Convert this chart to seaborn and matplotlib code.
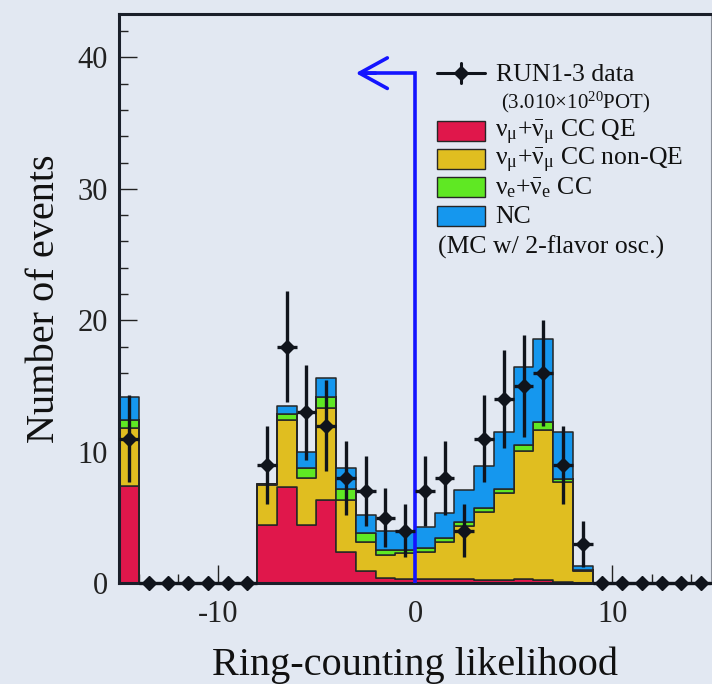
import numpy as np
import pandas as pd
import matplotlib
matplotlib.use("Agg")
import matplotlib.pyplot as plt
import seaborn as sns
from matplotlib.transforms import Affine2D
from matplotlib.patches import Rectangle
from matplotlib.lines import Line2D
from matplotlib.ticker import MultipleLocator

# ---------------- data ----------------
bin_centers = np.arange(-14.5, 15.0, 1.0)

data_counts = [11, 0, 0, 0, 0, 0, 0, 9, 18, 13, 12, 8, 7, 5, 4,
               7, 8, 4, 11, 14, 15, 16, 9, 3, 0, 0, 0, 0, 0, 0]

numu_qe = [7.4, 0, 0, 0, 0, 0, 0, 4.4, 7.3, 4.4, 6.35, 2.35, 0.9, 0.4, 0.35,
           0.3, 0.3, 0.3, 0.25, 0.25, 0.3, 0.25, 0.1, 0.0, 0, 0, 0, 0, 0, 0]
numu_nonqe = [4.4, 0, 0, 0, 0, 0, 0, 3.1, 5.1, 3.6, 6.95, 4.0, 2.27, 1.75, 1.95,
              2.08, 2.84, 4.04, 5.15, 6.61, 9.74, 11.39, 7.62, 0.95, 0, 0, 0, 0, 0, 0]
nue_cc = [0.6, 0, 0, 0, 0, 0, 0, 0.02, 0.45, 0.8, 0.9, 0.85, 0.63, 0.41, 0.23,
          0.31, 0.31, 0.30, 0.36, 0.35, 0.51, 0.63, 0.23, 0.05, 0, 0, 0, 0, 0, 0]
nc = [1.75, 0, 0, 0, 0, 0, 0, 0.03, 0.65, 1.2, 1.4, 1.56, 1.4, 1.39, 1.43,
      1.57, 1.93, 2.47, 3.18, 4.33, 5.9, 6.29, 3.59, 0.34, 0, 0, 0, 0, 0, 0]

components = ["NC", "nue CC", "numu CC non-QE", "numu CC QE"]  # top -> bottom
comp_values = {"numu CC QE": numu_qe, "numu CC non-QE": numu_nonqe,
               "nue CC": nue_cc, "NC": nc}
colors = {"numu CC QE": "#e0174b", "numu CC non-QE": "#e0be20",
          "nue CC": "#5fe823", "NC": "#1597ee"}

legend_labels = [r"$\mathrm{\nu_{\mu}{+}\bar{\nu}_{\mu}}$ CC QE",
                 r"$\mathrm{\nu_{\mu}{+}\bar{\nu}_{\mu}}$ CC non-QE",
                 r"$\mathrm{\nu_{e}{+}\bar{\nu}_{e}}$ CC",
                 "NC"]

cut_value = 0.0
arrow_y = 38.8
arrow_end = -3.0

# ---------------- style ----------------
BG = "#e2e8f2"
sns.set_theme(style="ticks")
plt.rcParams["font.family"] = ["Liberation Serif", "DejaVu Serif"]
plt.rcParams["mathtext.fontset"] = "custom"
plt.rcParams["mathtext.rm"] = "Liberation Serif"
plt.rcParams["mathtext.it"] = "Liberation Serif:italic"
plt.rcParams["mathtext.bf"] = "Liberation Serif:bold"
plt.rcParams["axes.unicode_minus"] = False

W, H = 712, 684
fig = plt.figure(figsize=(W / 100, H / 100), dpi=100, facecolor=BG)
ax = fig.add_axes([119 / W, 1 - 583.3 / H, (711 - 119) / W, (583.3 - 14) / H])
ax.set_facecolor(BG)

rows = []
for comp in components:
    for c, w in zip(bin_centers, comp_values[comp]):
        rows.append({"x": c, "w": w, "comp": comp})
df = pd.DataFrame(rows)

sns.histplot(data=df, x="x", weights="w", hue="comp", hue_order=components,
             multiple="stack", bins=30, binrange=(-15, 15), element="step",
             palette=colors, alpha=1.0, edgecolor="#262626", linewidth=1.1,
             legend=False, ax=ax, zorder=1)

# cut line with arrow
ax.plot([cut_value, cut_value, arrow_end + 0.4], [0, arrow_y, arrow_y],
        color="#1414ff", lw=2.6, solid_joinstyle="miter", zorder=3)
ax.annotate("", xy=(arrow_end, arrow_y), xytext=(arrow_end + 1.0, arrow_y),
            arrowprops=dict(arrowstyle="->,head_length=1.0,head_width=0.55",
                            color="#1414ff", lw=2.6, shrinkA=0, shrinkB=0,
                            mutation_scale=20), zorder=3)

# data points
dc = np.array(data_counts, dtype=float)
ax.errorbar(bin_centers, dc, xerr=0.5, yerr=np.sqrt(dc), fmt="D", ms=7.5,
            color="#10141c", ecolor="#10141c", elinewidth=2.4, capsize=0,
            zorder=5, clip_on=False)

ax.set_xlim(-15, 15)
ax.set_ylim(0, 43.3)
ax.xaxis.set_major_locator(MultipleLocator(10))
ax.xaxis.set_minor_locator(MultipleLocator(2))
ax.yaxis.set_major_locator(MultipleLocator(10))
ax.yaxis.set_minor_locator(MultipleLocator(2))
ax.tick_params(which="major", direction="in", length=13, width=1.0,
               color="#222222", labelsize=22, labelcolor="#222222")
ax.tick_params(which="minor", direction="in", length=6.5, width=1.0,
               color="#222222")
ax.tick_params(axis="x", which="both", pad=12, top=False, bottom=True)
ax.tick_params(axis="y", which="both", pad=8, right=False, left=True)

for s in ["left", "bottom", "top"]:
    ax.spines[s].set_linewidth(2.2)
    ax.spines[s].set_color("#1a1f2a")
ax.spines["right"].set_linewidth(0.8)
ax.spines["right"].set_color("#8a8f99")

ax.set_xlabel("Ring-counting likelihood", fontsize=29, color="#111111")
ax.set_ylabel("Number of events", fontsize=29, color="#111111")
ax.xaxis.set_label_coords(0.5, (583.3 - 647) / (583.3 - 14))
ax.yaxis.set_label_coords((63 - 119) / (711 - 119), 0.5)

# ---------------- legend (pixel coordinates) ----------------
tr = Affine2D().scale(1 / W, -1 / H).translate(0, 1) + fig.transFigure
fig.add_artist(Line2D([437, 485], [73, 73], transform=tr, color="#10141c", lw=2.2))
fig.add_artist(Line2D([461, 461], [63, 83], transform=tr, color="#10141c", lw=2.2))
fig.add_artist(Line2D([461], [73], transform=tr, marker="D", ms=7, color="#10141c"))
fig.text(496 / W, 1 - 75 / H, "RUN1-3 data", fontsize=18.5, va="center",
         ha="left", color="#111111")
fig.text(501 / W, 1 - 102 / H, r"(3.010$\times$10$^{20}$POT)", fontsize=15,
         va="center", ha="left", color="#111111")
ys = [121, 149, 177, 206]
order = ["numu CC QE", "numu CC non-QE", "nue CC", "NC"]
for y0, comp, lab in zip(ys, order, legend_labels):
    fig.add_artist(Rectangle((437, y0), 48, 20, transform=tr,
                             facecolor=colors[comp], edgecolor="#262626", lw=1.0))
    fig.text(495 / W, 1 - (y0 + 11) / H, lab, fontsize=18.5, va="center",
             ha="left", color="#111111")
fig.text(438 / W, 1 - 247 / H, "(MC w/ 2-flavor osc.)", fontsize=18.5,
         va="center", ha="left", color="#111111")

fig.savefig("out.png", dpi=100, facecolor=BG)
